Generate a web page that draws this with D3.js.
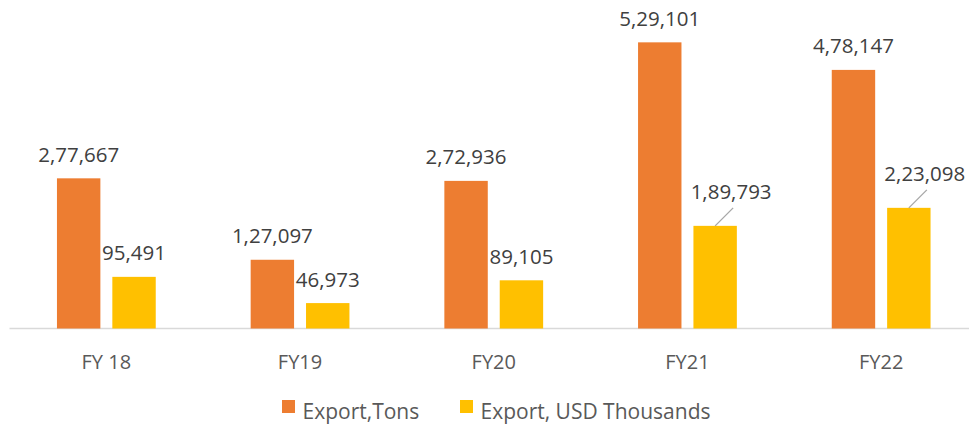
<!DOCTYPE html>
<html><head><meta charset="utf-8">
<script src="https://cdn.jsdelivr.net/npm/d3@7"></script>
<style>body{margin:0;background:#fff}svg{display:block;font-family:"Open Sans",Lato,sans-serif}</style>
</head><body><svg id="c" width="969" height="426"></svg>
<script>
const categories = ["FY 18","FY19","FY20","FY21","FY22"];
const seriesNames = ["Export,Tons","Export, USD Thousands"];
const exportTons = [277667,127097,272936,529101,478147];
const exportUSD = [95491,46973,89105,189793,223098];
const leaderLabels = ["FY21","FY22"]; // yellow labels drawn with leader lines

const colors = ["#ED7D31","#FFC000"];
const svg = d3.select("#c");
const x0 = d3.scaleBand().domain(categories).range([9.5,978]).paddingInner(0.49).paddingOuter(0.245);
const x1 = d3.scaleBand().domain([0,1]).range([0,x0.bandwidth()]).paddingInner(0.216);
const y = d3.scaleLinear().domain([0,600000]).range([328.5,4]);
const fmt = v => v.toLocaleString("en-IN");
const rows = categories.map((c,i)=>({c, vals:[exportTons[i],exportUSD[i]]}));

svg.append("line").attr("x1",9.5).attr("x2",978).attr("y1",y(0)).attr("y2",y(0)).attr("stroke","#D9D9D9").attr("stroke-width",1.5);

const g = svg.selectAll("g.grp").data(rows).join("g").attr("transform",d=>`translate(${x0(d.c)},0)`);
g.selectAll("rect").data(d=>d.vals.map((v,k)=>({v,k,c:d.c}))).join("rect")
  .attr("x",d=>x1(d.k)).attr("width",x1.bandwidth())
  .attr("y",d=>y(d.v)).attr("height",d=>y(0)-y(d.v)).attr("fill",d=>colors[d.k]);

g.selectAll("g.lab").data(d=>d.vals.map((v,k)=>({v,k,c:d.c}))).join("g").each(function(d){
  const cx = x1(d.k)+x1.bandwidth()/2;
  const lead = d.k===1 && leaderLabels.includes(d.c);
  const el = d3.select(this);
  let tx = cx, ty = y(d.v)-16.5;
  if(lead){
    tx = cx+16; ty = y(d.v)-27;
    el.append("line").attr("x1",cx).attr("y1",y(d.v)).attr("x2",cx+18).attr("y2",y(d.v)-18)
      .attr("stroke","#A6A6A6").attr("stroke-width",1.3);
  }
  el.append("text").attr("x",tx).attr("y",ty).attr("text-anchor","middle")
    .attr("font-size",20.5).attr("fill","#404040").text(fmt(d.v));
});

svg.selectAll("text.cat").data(categories).join("text").attr("class","cat")
  .attr("x",d=>x0(d)+x0.bandwidth()/2).attr("y",368.5).attr("text-anchor","middle")
  .attr("font-size",20).attr("fill","#595959").text(d=>d);

const legX = [282,460];
const lg = svg.selectAll("g.leg").data(seriesNames).join("g").attr("transform",(d,i)=>`translate(${legX[i]},400)`);
lg.append("rect").attr("width",13).attr("height",13).attr("fill",(d,i)=>colors[i]);
lg.append("text").attr("x",20.5).attr("y",19).attr("font-size",21).attr("fill","#595959").text(d=>d);
</script></body></html>
